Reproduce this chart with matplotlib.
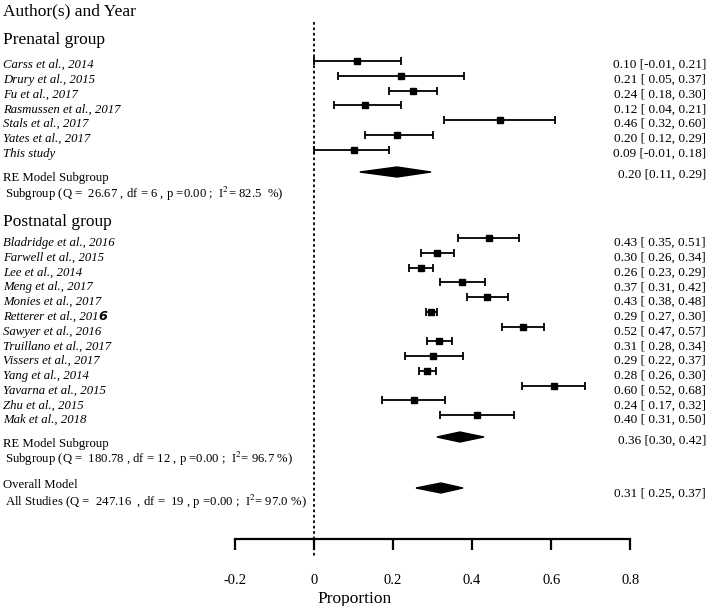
import numpy as np
import matplotlib
matplotlib.use("Agg")
import matplotlib.pyplot as plt
from matplotlib.patches import Polygon

plt.rcParams['font.family'] = ['Liberation Serif', 'DejaVu Serif']
plt.rcParams['mathtext.fontset'] = 'stix'

# prenatal studies: plotted estimate and CI, printed label
pre_names = ["Carss et al., 2014", "Drury et al., 2015", "Fu et al., 2017",
             "Rasmussen et al., 2017", "Stals et al., 2017", "Yates et al., 2017",
             "This study"]
pre_est = [0.11, 0.22, 0.25, 0.13, 0.47, 0.21, 0.10]
pre_lo = [0.00, 0.06, 0.19, 0.05, 0.33, 0.13, 0.00]
pre_hi = [0.22, 0.38, 0.31, 0.22, 0.61, 0.30, 0.19]
pre_labels = ["0.10 [-0.01, 0.21]", "0.21 [ 0.05, 0.37]", "0.24 [ 0.18, 0.30]",
              "0.12 [ 0.04, 0.21]", "0.46 [ 0.32, 0.60]", "0.20 [ 0.12, 0.29]",
              "0.09 [-0.01, 0.18]"]

# postnatal studies
post_names = ["Bladridge et al., 2016", "Farwell et al., 2015", "Lee et al., 2014",
              "Meng et al., 2017", "Monies et al., 2017", "Retterer et al., 201",
              "Sawyer et al., 2016", "Truillano et al., 2017", "Vissers et al., 2017",
              "Yang et al., 2014", "Yavarna et al., 2015", "Zhu et al., 2015",
              "Mak et al., 2018"]
post_est = [0.443, 0.311, 0.271, 0.374, 0.438, 0.296, 0.529, 0.316, 0.301,
            0.286, 0.607, 0.253, 0.412]
post_lo = [0.364, 0.271, 0.240, 0.319, 0.387, 0.283, 0.476, 0.285, 0.230,
           0.266, 0.526, 0.172, 0.319]
post_hi = [0.519, 0.354, 0.301, 0.433, 0.491, 0.311, 0.582, 0.349, 0.377,
           0.309, 0.686, 0.331, 0.506]
post_labels = ["0.43 [ 0.35, 0.51]", "0.30 [ 0.26, 0.34]", "0.26 [ 0.23, 0.29]",
               "0.37 [ 0.31, 0.42]", "0.43 [ 0.38, 0.48]", "0.29 [ 0.27, 0.30]",
               "0.52 [ 0.47, 0.57]", "0.31 [ 0.28, 0.34]", "0.29 [ 0.22, 0.37]",
               "0.28 [ 0.26, 0.30]", "0.60 [ 0.52, 0.68]", "0.24 [ 0.17, 0.32]",
               "0.40 [ 0.31, 0.50]"]

# pooled models: estimate, lower, upper, label
pre_model = (0.210, 0.116, 0.296)
post_model = (0.369, 0.311, 0.430)
overall_model = (0.321, 0.258, 0.377)
pre_model_label = "0.20 [0.11, 0.29]"
post_model_label = "0.36 [0.30, 0.42]"
overall_label = "0.31 [ 0.25, 0.37]"
pre_stats = "Subgroup (Q =  26.67 , df = 6 , p =0.00 ;  I$^{2}$= 82.5  %)"
post_stats = "Subgroup (Q =  180.78 , df = 12 , p =0.00 ;  I$^{2}$= 96.7 %)"
all_stats = "All Studies (Q =  247.16  , df =  19 , p =0.00 ;  I$^{2}$= 97.0 %)"

xticks = [-0.2, 0, 0.2, 0.4, 0.6, 0.8]

W, H = 709, 606
fig = plt.figure(figsize=(W / 100, H / 100), dpi=100)
axis_y = 539
ax = fig.add_axes([0, (H - axis_y) / H, 1, axis_y / H])
x0, scale = 314, 395.3
ax.set_xlim(-x0 / scale, (W - x0) / scale)
ax.set_ylim(axis_y, 0)
for s in ['top', 'left', 'right']:
    ax.spines[s].set_visible(False)
ax.spines['bottom'].set_bounds(-0.2, 0.8)
ax.spines['bottom'].set_linewidth(1.6)
ax.set_yticks([])
ax.set_xticks(xticks)
ax.set_xticklabels(["-0.2", "0", "0.2", "0.4", "0.6", "0.8"])
ax.tick_params(axis='x', length=8, width=1.6, pad=17, labelsize=10.5)
ax.set_xlabel("Proportion", fontsize=12.5, labelpad=3)


def px(x):
    return (x - x0) / scale


lx = px(3)
rx = px(706)
step = 14.75
name_fs = 9.2
val_fs = 9.5

ax.text(lx, 9, "Author(s) and Year", fontsize=12.5, va='center_baseline')
ax.text(lx, 38, "Prenatal group", fontsize=12.5, va='center_baseline')
ax.text(lx, 220, "Postnatal group", fontsize=12.5, va='center_baseline')

# reference line at 0
ax.plot([0, 0], [22, 557], color='black', lw=1.3, ls=(0, (1.5, 1.5)), clip_on=False)


def study_block(names, est, lo, hi, labels, y_start, dy):
    ys = y_start + step * np.arange(len(names))
    est = np.array(est)
    ax.errorbar(est, ys, xerr=[est - np.array(lo), np.array(hi) - est],
                fmt='s', color='black', ms=5, ecolor='black', elinewidth=1.3,
                capsize=3, capthick=1.3)
    texts = []
    for name, lab, y in zip(names, labels, ys):
        texts.append(ax.text(lx, y + dy, name, fontsize=name_fs, style='italic',
                             va='center_baseline'))
        ax.text(rx, y + dy, lab, fontsize=val_fs, ha='right', va='center_baseline')
    return ys + dy, texts


def diamond(model, y, h=5):
    est, lo, hi = model
    ax.add_patch(Polygon([[lo, y], [est, y - h], [hi, y], [est, y + h]],
                         closed=True, color='black'))


study_block(pre_names, pre_est, pre_lo, pre_hi, pre_labels, 61, 2.5)
ax.text(lx, 176, "RE Model Subgroup", fontsize=name_fs, va='center_baseline')
ax.text(px(5), 191, pre_stats, fontsize=name_fs, va='center_baseline')
diamond(pre_model, 172)
ax.text(rx, 173, pre_model_label, fontsize=val_fs, ha='right', va='center_baseline')

ys, texts = study_block(post_names, post_est, post_lo, post_hi, post_labels, 238, 3.5)
# the last digit of Retterer is printed in a bold sans face
fig.canvas.draw()
bb = texts[5].get_window_extent().transformed(ax.transData.inverted())
ax.text(bb.x1, ys[5], "6", fontsize=name_fs, fontweight='bold', style='italic',
        family='DejaVu Sans', va='center_baseline')
ax.text(lx, 442, "RE Model Subgroup", fontsize=name_fs, va='center_baseline')
ax.text(px(5), 456, post_stats, fontsize=name_fs, va='center_baseline')
diamond(post_model, 437)
ax.text(rx, 439, post_model_label, fontsize=val_fs, ha='right', va='center_baseline')

ax.text(lx, 484, "Overall Model", fontsize=name_fs, va='center_baseline')
ax.text(px(5), 499, all_stats, fontsize=name_fs, va='center_baseline')
diamond(overall_model, 488)
ax.text(rx, 492, overall_label, fontsize=val_fs, ha='right', va='center_baseline')

fig.savefig("out.png", dpi=100)
